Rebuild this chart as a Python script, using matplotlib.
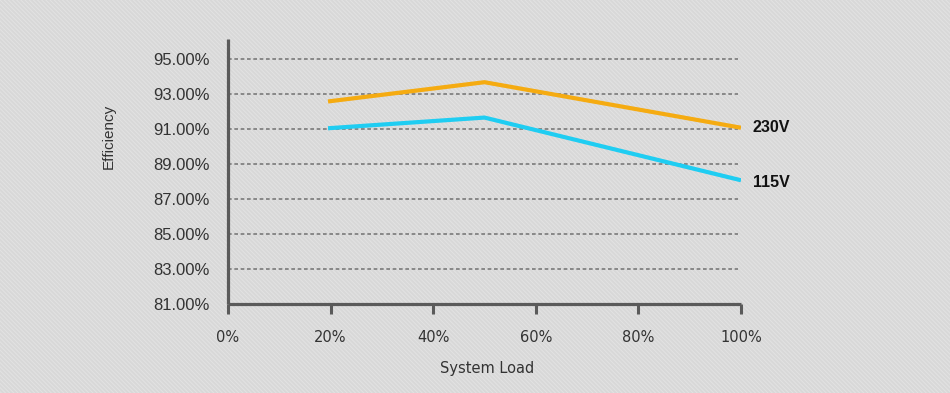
import matplotlib
matplotlib.use('Agg')
import matplotlib.pyplot as plt
from matplotlib.patches import Rectangle

# data
load = [19.5, 50, 100]
eff_230 = [92.55, 93.65, 91.05]
eff_115 = [91.02, 91.63, 88.05]
series_names = ['230V', '115V']
x_ticks = [0, 20, 40, 60, 80, 100]
y_ticks = [81, 83, 85, 87, 89, 91, 93, 95]

orange = '#f5ab11'
cyan = '#1fcdf2'
axis_col = '#5a5a5a'
text_col = '#333333'

plt.rcParams['hatch.linewidth'] = 0.7

fig = plt.figure(figsize=(9.5, 3.93), dpi=100)
fig.patch.set_facecolor('#dadada')
# striped backdrop
bg = Rectangle((0, 0), 1, 1, transform=fig.transFigure, facecolor='#d8d8d8',
               edgecolor='#e3e3e3', hatch='\\' * 8, linewidth=0, zorder=-10)
fig.patches.append(bg)

ax = fig.add_axes([0.24, 0.2272, 0.54, 0.6728])
ax.patch.set_alpha(0)

ax.set_xlim(0, 100)
ax.set_ylim(81, 96.1)

# dashed grid
for v in y_ticks[1:]:
    ax.plot([0, 99.5], [v, v], color='#7a7a7a', lw=1.2, ls=(0, (2.2, 1.6)), zorder=1)

ax.plot(load, eff_230, color=orange, lw=3.0, solid_capstyle='butt', zorder=3)
ax.plot(load, eff_115, color=cyan, lw=3.0, solid_capstyle='butt', zorder=3)

ax.text(102.3, eff_230[-1], series_names[0], fontsize=11.5, fontweight='bold',
        color='#111111', va='center', ha='left', family='Liberation Sans')
ax.text(102.3, eff_115[-1] - 0.1, series_names[1], fontsize=11.5, fontweight='bold',
        color='#111111', va='center', ha='left', family='Liberation Sans')

for s in ['top', 'right']:
    ax.spines[s].set_visible(False)
for s in ['left', 'bottom']:
    ax.spines[s].set_color(axis_col)
    ax.spines[s].set_linewidth(2.3)
    ax.spines[s].set_capstyle('butt')

ax.set_xticks(x_ticks)
ax.set_xticklabels(['{}%'.format(t) for t in x_ticks])
ax.set_yticks(y_ticks)
ax.set_yticklabels(['{:.2f}%'.format(t) for t in y_ticks])

ax.tick_params(axis='x', length=7, width=2.2, color=axis_col, pad=12,
               labelsize=10.5, labelcolor=text_col)
ax.tick_params(axis='y', length=0, pad=13, labelsize=12, labelcolor=text_col)
for lab in ax.get_yticklabels():
    lab.set_family('Liberation Sans')

fig.text(0.513, 0.063, 'System Load', ha='center', va='center', fontsize=10.5,
         color=text_col)
fig.text(0.114, 0.652, 'Efficiency', ha='center', va='center', fontsize=11,
         rotation=90, color=text_col, family='Liberation Sans')

fig.savefig('out.png', dpi=100, facecolor=fig.get_facecolor())
